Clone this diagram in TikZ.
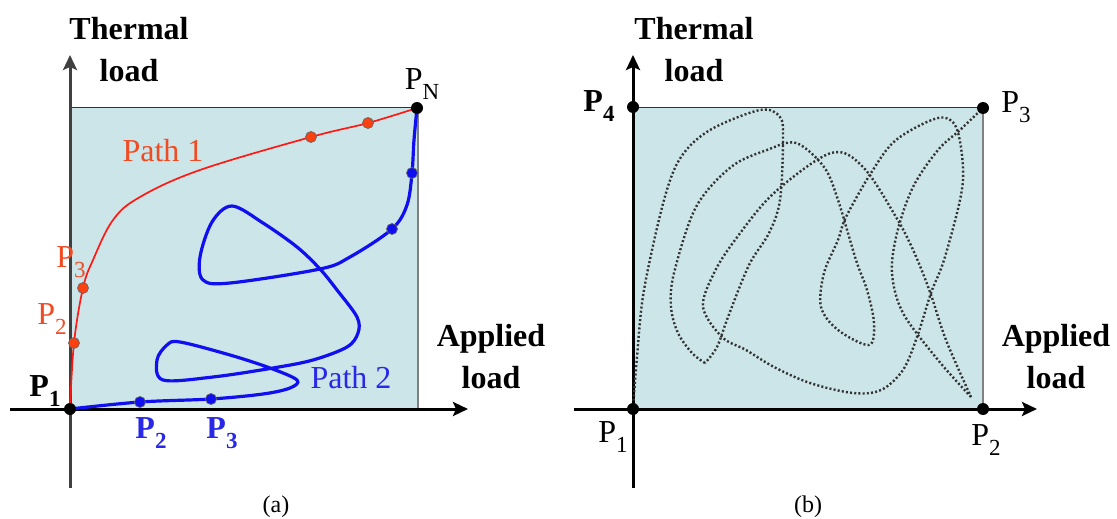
\documentclass[tikz,border=0pt]{standalone}
\usepackage{fontspec}
\setmainfont{Liberation Serif}
\usetikzlibrary{arrows.meta}
\definecolor{fillblue}{RGB}{204,229,232}
\definecolor{pathred}{RGB}{255,25,20}
\definecolor{dotred}{RGB}{250,65,15}
\definecolor{labred}{RGB}{240,75,35}
\definecolor{pathblue}{RGB}{15,15,240}
\definecolor{labblue}{RGB}{40,40,230}
\definecolor{edgegray}{RGB}{128,128,128}
\newcommand{\plab}[1]{P\raisebox{-0.32em}{\fontsize{23}{23}\selectfont #1}}

\tikzset{
  axis/.style={line width=3pt,-{Stealth[length=15pt,width=14pt,inset=3pt]}},
  dot/.style={circle,fill=black,inner sep=0pt,minimum size=12pt},
  reddot/.style={dot,fill=dotred,draw=black!60,line width=0.7pt,minimum size=11pt},
  bluedot/.style={dot,fill=pathblue,draw=black!60,line width=0.7pt,minimum size=11pt},
  txt/.style={font=\fontsize{32}{42}\selectfont,inner sep=0pt,align=center},
  btxt/.style={txt,font=\fontsize{32}{42}\selectfont\bfseries},
  captxt/.style={font=\fontsize{24}{28}\selectfont,inner sep=0pt},
  scribble/.style={black!80,line width=2.4pt,dash pattern=on 2pt off 2.2pt}
}

\begin{document}
\begin{tikzpicture}[x=1pt,y=-1pt,>=Stealth]
    \useasboundingbox (0,0) rectangle (1117,519);
    % (a) two load paths
    \fill[fillblue] (70,107) rectangle (418,409);
    \draw[black!80,line width=0.8pt] (70,107) -- (418,107);
    \draw[edgegray,line width=2.4pt] (418,107) -- (418,409);
    \draw[axis] (10,409) -- (468,409);
    \draw[axis,black!75] (70,488) -- (70,55);
    \coordinate (a-p1) at (70,409);
    \coordinate (a-pN) at (417,108);
    \coordinate (r2) at (74,343);
    \coordinate (r3) at (83,288);
    \coordinate (r4) at (311,137);
    \coordinate (r5) at (368,123);
    \coordinate (b2) at (140,402);
    \coordinate (b3) at (211,399);
    \coordinate (b4) at (392,229);
    \coordinate (b5) at (412,173);
    \draw[pathred,line width=1.7pt] plot[smooth,tension=0.6] coordinates {(a-p1) (r2) (r3) (93,260) (113,220) (140,197) (200,170) (r4) (r5) (a-pN)};
    \draw[pathblue,line width=3.2pt] plot[smooth,tension=0.55] coordinates {(a-p1) (b2) (b3) (263,394) (290,388) (297,380) (270,368) (230,355) (180,342) (167,345) (157,360) (163,380) (213,377) (273,368) (313,360) (347,347) (358,333) (357,317) (337,290) (320,269) (297,247) (263,223) (232,206) (212,222) (200,257) (203,280) (230,283) (320,269) (350,257) (b4) (407,205) (b5) (414,140) (a-pN)};
    \node[reddot] (rd2) at (r2) {};
    \node[reddot] (rd3) at (r3) {};
    \node[reddot] (rd4) at (r4) {};
    \node[reddot] (rd5) at (r5) {};
    \node[bluedot] (bd2) at (b2) {};
    \node[bluedot] (bd3) at (b3) {};
    \node[bluedot] (bd4) at (b4) {};
    \node[bluedot] (bd5) at (b5) {};
    \node[dot] (ad1) at (a-p1) {};
    \node[dot] (adN) at (a-pN) {};
    \node[btxt] (a-ylab) at (129,50) {Thermal\\load};
    \node[btxt] (a-xlab) at (491,357) {Applied\\load};
    \node[txt,labred] (path1) at (163,151) {Path 1};
    \node[txt,labblue] (path2) at (351,378) {Path 2};
    \node[btxt] (lab-a1) at (45,391) {\plab{1}};
    \node[txt] (lab-aN) at (422,84) {\plab{N}};
    \node[txt,labred] (lab-r2) at (52,319) {\plab{2}};
    \node[txt,labred] (lab-r3) at (71,262) {\plab{3}};
    \node[btxt,labblue] (lab-b2) at (151,433) {\plab{2}};
    \node[btxt,labblue] (lab-b3) at (222,433) {\plab{3}};
    \node[captxt] (cap-a) at (276,507) {(a)};
    % (b) arbitrary load history
    \fill[fillblue] (633,107) rectangle (983,409);
    \draw[black!80,line width=0.8pt] (633,107) -- (983,107);
    \draw[edgegray,line width=2.4pt] (983,107) -- (983,409);
    \draw[axis] (574,409) -- (1037,409);
    \draw[axis] (633,488) -- (633,55);
    \coordinate (q1) at (633,409);
    \coordinate (q2) at (983,409);
    \coordinate (q3) at (983,108);
    \coordinate (q4) at (633,107);
    \coordinate (v1) at (705,363);
    \coordinate (v2) at (971,397);
    \draw[scribble] plot[smooth,tension=0.55] coordinates {(q1) (637,357) (644,290) (664,200) (681,157) (710,130) (760,110) (780,117) (783,140) (780,200) (769,233) (749,265) (728,317) (717,347) (v1)};
    \draw[scribble] plot[smooth,tension=0.55] coordinates {(v1) (692,353) (678,333) (671,307) (674,273) (696,207) (731,167) (767,150) (796,143) (824,167) (838,200) (856,260) (867,290) (874,323) (869,345) (838,330) (821,307) (824,273) (838,240) (846,217) (871,173) (896,140) (938,118) (956,127) (963,167) (960,200) (944,260) (931,293) (917,337) (903,370) (881,390) (853,393) (810,383) (774,367) (746,350) (722,337) (703,307) (714,273) (735,240) (774,193) (831,153) (863,167) (896,217) (914,252) (930,292) (946,340) (v2)};
    \draw[scribble] plot[smooth,tension=0.55] coordinates {(v2) (938,360) (903,313) (892,273) (897,233) (913,187) (938,150) (960,130) (q3)};
    \node[dot] (bd1) at (q1) {};
    \node[dot] (bdd2) at (q2) {};
    \node[dot] (bdd3) at (q3) {};
    \node[dot] (bdd4) at (q4) {};
    \node[btxt] (b-ylab) at (694,50) {Thermal\\load};
    \node[btxt] (b-xlab) at (1056,357) {Applied\\load};
    \node[btxt] (lab-q4) at (599,106) {\plab{4}};
    \node[txt] (lab-q3) at (1016,107) {\plab{3}};
    \node[txt] (lab-q1) at (613,437) {\plab{1}};
    \node[txt] (lab-q2) at (986,440) {\plab{2}};
    \node[captxt] (cap-b) at (808,507) {(b)};
\end{tikzpicture}
\end{document}
